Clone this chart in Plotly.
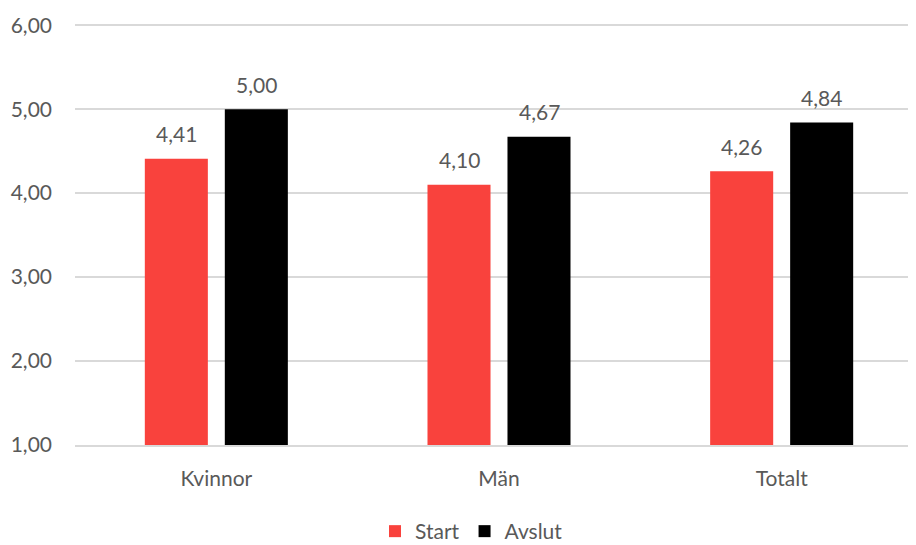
import plotly.graph_objects as go

categories = ["Kvinnor", "Män", "Totalt"]
start_values = [4.41, 4.10, 4.26]
avslut_values = [5.00, 4.67, 4.84]
y_ticks = [1, 2, 3, 4, 5, 6]
y_tick_labels = ["1,00", "2,00", "3,00", "4,00", "5,00", "6,00"]

RED = "#F9423D"
BLACK = "#000000"
TEXT = "#595959"
FONT = "Lato"
FS = 21

fig = go.Figure()
fig.add_trace(go.Bar(name="Start", x=categories, y=start_values, marker_color=RED,
                     marker_line_width=0, width=0.223, offset=-0.253))
fig.add_trace(go.Bar(name="Avslut", x=categories, y=avslut_values, marker_color=BLACK,
                     marker_line_width=0, width=0.223, offset=0.030))

for c, v in zip(categories, start_values):
    fig.add_annotation(x=c, y=v, xshift=-40, yshift=25, yanchor="middle",
                       text=f"{v:.2f}".replace(".", ","), showarrow=False,
                       font=dict(family=FONT, size=FS, color=TEXT))
for c, v in zip(categories, avslut_values):
    fig.add_annotation(x=c, y=v, xshift=40, yshift=25, yanchor="middle",
                       text=f"{v:.2f}".replace(".", ","), showarrow=False,
                       font=dict(family=FONT, size=FS, color=TEXT))

fig.update_layout(
    width=916, height=545,
    margin=dict(l=67, r=1, t=13, b=105),
    plot_bgcolor="white", paper_bgcolor="white",
    font=dict(family=FONT, size=FS, color=TEXT),
    barmode="overlay",
    showlegend=True,
    legend=dict(orientation="h", x=0.4676, xanchor="center", y=-0.204, yanchor="middle",
                font=dict(family=FONT, size=FS, color=TEXT), itemwidth=30,
                traceorder="normal"),
    xaxis=dict(range=[-0.5, 2.5], showgrid=False, showline=True, linecolor="#D9D9D9",
               linewidth=2, ticks="outside", ticklen=14, tickcolor="rgba(0,0,0,0)",
               tickfont=dict(family=FONT, size=FS, color=TEXT)),
    yaxis=dict(range=[1, 6.05], tickvals=y_ticks, ticktext=y_tick_labels, showgrid=True,
               gridcolor="#D9D9D9", gridwidth=2, zeroline=False, showline=False,
               ticklabelstandoff=22, tickfont=dict(family=FONT, size=FS, color=TEXT)),
)

fig.write_html("out.html")
